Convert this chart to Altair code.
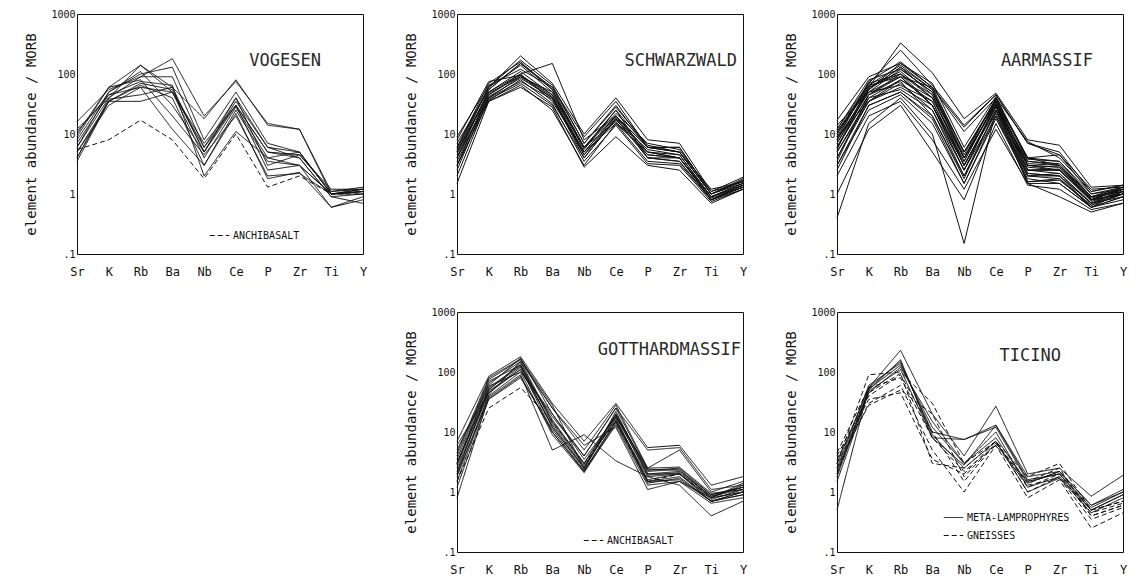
import altair as alt
import pandas as pd

ELEMENTS = ["Sr", "K", "Rb", "Ba", "Nb", "Ce", "P", "Zr", "Ti", "Y"]
Y_TICKS = [0.1, 1, 10, 100, 1000]

VOGESEN_SOLID = [
    [10, 60, 140, 60, 18, 80, 14, 12, 1.1, 1.2],
    [16, 55, 90, 180, 20, 75, 15, 12, 1.0, 1.1],
    [8, 50, 100, 130, 8, 50, 7, 5, 1.0, 1.2],
    [6, 40, 90, 90, 6, 40, 6, 5, 1.0, 1.1],
    [5, 35, 70, 55, 5, 30, 5, 4, 0.9, 1.0],
    [7, 45, 60, 50, 4, 28, 4, 3, 1.0, 1.2],
    [4, 35, 65, 40, 3, 25, 3.5, 3, 0.6, 0.8],
    [12, 40, 140, 50, 6, 30, 5, 4.5, 1.1, 1.3],
    [9, 60, 80, 20, 4.5, 20, 2, 2.2, 1.0, 1.1],
    [5, 30, 60, 12, 3, 22, 1.8, 2.3, 0.6, 0.9],
    [3.5, 35, 35, 50, 7, 30, 2.5, 3, 1.0, 1.0],
    [6, 50, 110, 30, 5, 40, 3, 4.5, 1.2, 1.2],
    [11, 45, 75, 65, 2, 11, 4, 5, 1.0, 1.1],
    [4, 38, 45, 60, 5, 35, 6, 4, 0.9, 0.7],
]
VOGESEN_DASHED = [
    [5.5, 8, 17, 8, 1.8, 10, 1.3, 2, 1.0, 1.0],
]

SCHWARZWALD_SOLID = [
    [5, 60, 200, 70, 10, 40, 8, 7, 1.1, 1.9],
    [4, 55, 150, 60, 7, 30, 6, 6, 1.0, 1.7],
    [6, 70, 160, 55, 6, 25, 6, 5, 1.2, 1.6],
    [3, 50, 100, 150, 8, 20, 5, 4.5, 0.9, 1.5],
    [8, 75, 95, 45, 5, 20, 6, 5, 1.0, 1.5],
    [2, 40, 90, 40, 4, 18, 4, 4, 0.8, 1.3],
    [5, 45, 100, 35, 5, 15, 5, 4, 0.9, 1.4],
    [4, 38, 70, 30, 4, 18, 4, 3.5, 0.8, 1.3],
    [3, 35, 65, 25, 3, 15, 3.5, 3.2, 0.8, 1.2],
    [6, 60, 140, 50, 6, 22, 7, 5.5, 1.1, 1.6],
    [1.5, 35, 60, 28, 2.8, 9, 3, 2.5, 0.7, 1.2],
    [9, 65, 120, 60, 9, 35, 6, 5, 1.0, 1.8],
    [4, 42, 85, 40, 5, 20, 5, 4, 0.9, 1.4],
    [5, 50, 110, 45, 6, 16, 4.5, 4, 0.9, 1.5],
    [3.5, 40, 75, 38, 4.5, 17, 5.5, 4.5, 0.9, 1.3],
    [7, 55, 150, 55, 6, 20, 6, 6, 1.0, 1.6],
    [4.5, 48, 90, 50, 5.5, 25, 4, 3.5, 0.8, 1.4],
    [3, 36, 80, 32, 3.5, 14, 3.2, 3, 0.75, 1.2],
    [5.5, 62, 170, 65, 7, 28, 6.5, 5, 1.0, 1.7],
    [2.5, 45, 95, 42, 4.5, 19, 4.5, 4, 0.85, 1.3],
]

AARMASSIF_SOLID = [
    [10, 60, 330, 105, 18, 48, 8, 6.5, 1.3, 1.4],
    [12, 70, 250, 65, 14, 45, 7, 4.5, 1.2, 1.3],
    [17, 90, 150, 60, 11, 40, 7.5, 4, 1.1, 1.4],
    [8, 50, 120, 50, 5, 35, 4, 3.5, 1.0, 1.2],
    [6, 45, 100, 40, 4, 30, 3.5, 3, 0.9, 1.1],
    [5, 40, 80, 35, 3, 25, 3, 2.8, 0.8, 1.0],
    [4, 35, 60, 30, 2.5, 30, 2.5, 2.5, 0.8, 1.0],
    [3, 30, 50, 20, 2, 20, 2, 2, 0.7, 0.9],
    [0.4, 15, 40, 10, 0.15, 25, 1.5, 1.5, 0.6, 0.8],
    [1, 12, 30, 5, 0.8, 15, 1.4, 1.2, 0.55, 0.7],
    [11, 55, 130, 45, 4.5, 38, 3.8, 3.5, 0.9, 1.2],
    [9, 65, 140, 55, 4, 40, 4, 3, 0.9, 1.3],
    [7, 60, 110, 40, 3.5, 35, 2.8, 2.5, 0.8, 1.2],
    [14, 50, 90, 30, 3, 28, 2.5, 2.2, 0.7, 1.1],
    [5, 35, 70, 25, 2.5, 22, 2, 1.8, 0.65, 1.0],
    [3, 25, 45, 15, 1.5, 18, 1.8, 1.5, 0.6, 0.9],
    [2, 20, 35, 8, 1.2, 12, 1.5, 0.9, 0.5, 0.7],
    [6, 45, 90, 60, 5, 35, 3, 2.5, 0.8, 1.0],
    [8, 55, 150, 70, 6, 42, 3.5, 3.2, 0.9, 1.1],
    [10, 70, 100, 45, 3, 30, 2.2, 2, 0.7, 1.0],
    [12, 80, 120, 50, 4, 32, 2.5, 2.5, 0.75, 1.1],
    [4, 40, 55, 25, 2, 25, 2, 2.2, 0.7, 1.2],
    [7, 50, 65, 35, 3, 28, 2.5, 2.6, 0.8, 1.3],
    [9, 35, 80, 40, 4, 32, 3, 2.8, 0.85, 1.2],
    [5.5, 60, 100, 30, 2.5, 30, 1.6, 1.7, 0.65, 1.0],
    [3.5, 45, 75, 20, 1.8, 25, 2.2, 2, 0.6, 1.1],
    [6, 55, 130, 55, 5, 38, 4, 4.5, 1.0, 1.3],
    [11, 65, 90, 30, 3.5, 35, 3.2, 3, 0.8, 1.2],
    [2.5, 30, 50, 18, 1.5, 20, 1.6, 1.8, 0.6, 0.9],
    [8, 75, 160, 60, 13, 45, 7, 5, 1.1, 1.4],
]

GOTTHARD_SOLID = [
    [7, 85, 180, 30, 7, 30, 5.5, 6, 1.3, 1.8],
    [4, 75, 160, 25, 5, 28, 2.5, 5, 1.0, 1.5],
    [3, 65, 150, 15, 3, 20, 2.3, 2.5, 0.9, 1.2],
    [2, 55, 130, 12, 2.5, 18, 2, 2.2, 0.85, 1.1],
    [2.5, 45, 120, 10, 2.2, 15, 1.8, 2, 0.8, 1.0],
    [1.5, 40, 100, 9, 2.1, 14, 1.5, 1.8, 0.7, 0.9],
    [3, 50, 140, 14, 2.8, 16, 1.6, 2, 0.75, 1.1],
    [2, 35, 80, 11, 2.3, 15, 1.4, 1.7, 0.7, 1.0],
    [0.8, 38, 90, 5, 9, 3.3, 1.8, 1.3, 0.4, 0.7],
    [5, 60, 170, 20, 4, 25, 2.4, 2.3, 0.9, 1.2],
    [3.5, 70, 130, 12, 2.5, 20, 2.2, 2.4, 0.8, 1.3],
    [2.2, 48, 110, 13, 2.6, 17, 1.5, 1.6, 0.7, 1.0],
    [1.8, 42, 150, 25, 6, 12, 1.1, 1.5, 0.8, 1.4],
    [3, 58, 100, 20, 3.5, 18, 2.5, 2.6, 0.95, 1.1],
    [2.8, 52, 125, 16, 3, 19, 1.9, 2.1, 0.85, 1.2],
    [4.5, 80, 165, 28, 2.4, 22, 2, 2, 0.7, 0.9],
    [1.2, 36, 85, 10, 2.2, 13, 1.3, 1.5, 0.65, 0.8],
    [6, 45, 110, 18, 4, 25, 5, 5.5, 1.1, 1.3],
]
GOTTHARD_DASHED = [
    [1.5, 25, 55, 15, 3, 15, 1.5, 2, 0.8, 1.0],
]

TICINO_SOLID = [
    [0.5, 55, 230, 20, 4, 27, 2, 2.5, 0.85, 1.9],
    [2, 50, 160, 8, 7.5, 13, 1.8, 2.2, 0.6, 1.1],
    [2.5, 60, 140, 10, 7.5, 12, 1.5, 2, 0.55, 1.0],
    [1.5, 45, 120, 15, 3, 10, 1.2, 1.8, 0.5, 0.9],
    [3, 55, 150, 9, 2.5, 7, 1.0, 1.7, 0.45, 0.8],
    [2.2, 52, 130, 12, 3, 8, 1.4, 2.2, 0.6, 1.0],
    [1.8, 48, 110, 8, 2.8, 13, 1.6, 2.0, 0.5, 0.9],
]
TICINO_DASHED = [
    [3, 90, 100, 30, 3, 7, 1.8, 3, 0.5, 0.7],
    [4, 40, 90, 10, 1.5, 6.5, 1.5, 2.5, 0.4, 0.6],
    [2.5, 30, 60, 5, 1, 6, 0.8, 1.6, 0.25, 0.45],
    [3.5, 35, 45, 3.5, 2, 7, 1.2, 2, 0.4, 0.6],
    [2, 45, 95, 3, 2.5, 7, 1.0, 1.8, 0.45, 0.65],
    [3, 28, 50, 20, 1.8, 6.5, 1.4, 2.2, 0.5, 0.7],
    [4.5, 55, 80, 8, 2.2, 6, 1.3, 1.7, 0.35, 0.55],
]

FONT = "DejaVu Sans Mono"
INK = "#111111"
PW = 286
PH = 240


def records(rows, group):
    out = []
    for k, row in enumerate(rows):
        for i, (el, v) in enumerate(zip(ELEMENTS, row)):
            out.append({"el": el, "i": i, "v": v, "line": f"{group}-{k}", "grp": group})
    return out


X_ENC = alt.X("el:N", sort=ELEMENTS,
              scale=alt.Scale(type="point", padding=0),
              axis=alt.Axis(title=None, labelAngle=0, labelFont=FONT,
                            labelFontSize=12, labelColor=INK, ticks=False,
                            domain=False, grid=False, labelPadding=12))
Y_ENC = alt.Y("v:Q",
              scale=alt.Scale(type="log", domain=[0.1, 1000], nice=False),
              axis=alt.Axis(title="element abundance / MORB", values=Y_TICKS,
                            labelExpr="datum.value < 1 ? '.1' : format(datum.value, 'd')",
                            labelFont=FONT, labelFontSize=10, labelColor=INK,
                            ticks=False, domain=False, grid=False, labelPadding=2,
                            titleFont=FONT, titleFontSize=14, titleFontWeight="normal",
                            titleColor=INK, titlePadding=12))


def panel(name, solid, tx, ty, dashed=None, solid_label="", dashed_label="",
          legend_values=None, lx=0, ly=0):
    rows = records(solid, solid_label or name)
    if dashed:
        rows += records(dashed, dashed_label)
    df = pd.DataFrame(rows)
    enc = dict(x=X_ENC, y=Y_ENC, detail="line:N", order="i:O")
    if dashed:
        legend = alt.Legend(
            values=legend_values, orient="none", legendX=lx, legendY=ly,
            title=None, labelFont=FONT, labelFontSize=10, labelColor=INK,
            symbolType="stroke", symbolStrokeColor=INK, symbolStrokeWidth=1,
            symbolSize=380, labelOffset=3, rowPadding=2,
        )
        enc["strokeDash"] = alt.StrokeDash(
            "grp:N",
            scale=alt.Scale(domain=[solid_label, dashed_label], range=[[1, 0], [5, 3]]),
            legend=legend,
        )
    lines = alt.Chart(df).mark_line(color=INK, strokeWidth=1.0).encode(**enc)
    label = alt.Chart(pd.DataFrame({"name": [name]})).mark_text(
        align="right", baseline="middle", font=FONT, fontSize=17,
        fontWeight="normal", color="#2a2a2a",
    ).encode(x=alt.value(tx), y=alt.value(ty), text="name:N")
    return alt.layer(lines, label).properties(width=PW, height=PH)


vog = panel("VOGESEN", VOGESEN_SOLID, 244, 47, VOGESEN_DASHED, "VOGESEN-SAMPLES",
            "ANCHIBASALT", ["ANCHIBASALT"], 132, 211)
sch = panel("SCHWARZWALD", SCHWARZWALD_SOLID, 280, 47)
aar = panel("AARMASSIF", AARMASSIF_SOLID, 256, 47)
got = panel("GOTTHARDMASSIF", GOTTHARD_SOLID, 284, 38, GOTTHARD_DASHED,
            "GOTTHARD-SAMPLES", "ANCHIBASALT ", ["ANCHIBASALT "], 126, 218)
tic = panel("TICINO", TICINO_SOLID, 224, 44, TICINO_DASHED, "META-LAMPROPHYRES",
            "GNEISSES", ["META-LAMPROPHYRES", "GNEISSES"], 106, 195)

blank = alt.Chart(pd.DataFrame({"el": ["Sr"], "v": [1.0]})).mark_point(opacity=0).encode(
    x=alt.X("el:N", axis=None),
    y=alt.Y("v:Q", axis=None),
).properties(width=PW, height=PH, view=alt.ViewBackground(stroke="transparent"))

chart = alt.concat(
    vog, sch, aar, blank, got, tic, columns=3,
    spacing={"row": 28, "column": 36},
).resolve_scale(strokeDash="independent").resolve_legend(
    strokeDash="independent"
).properties(
    padding={"left": 16, "top": 0, "right": 0, "bottom": 0},
    background="white",
).configure_view(stroke=INK, strokeWidth=1)

chart.save("out.html", embed_options={"renderer": "svg", "actions": False})
